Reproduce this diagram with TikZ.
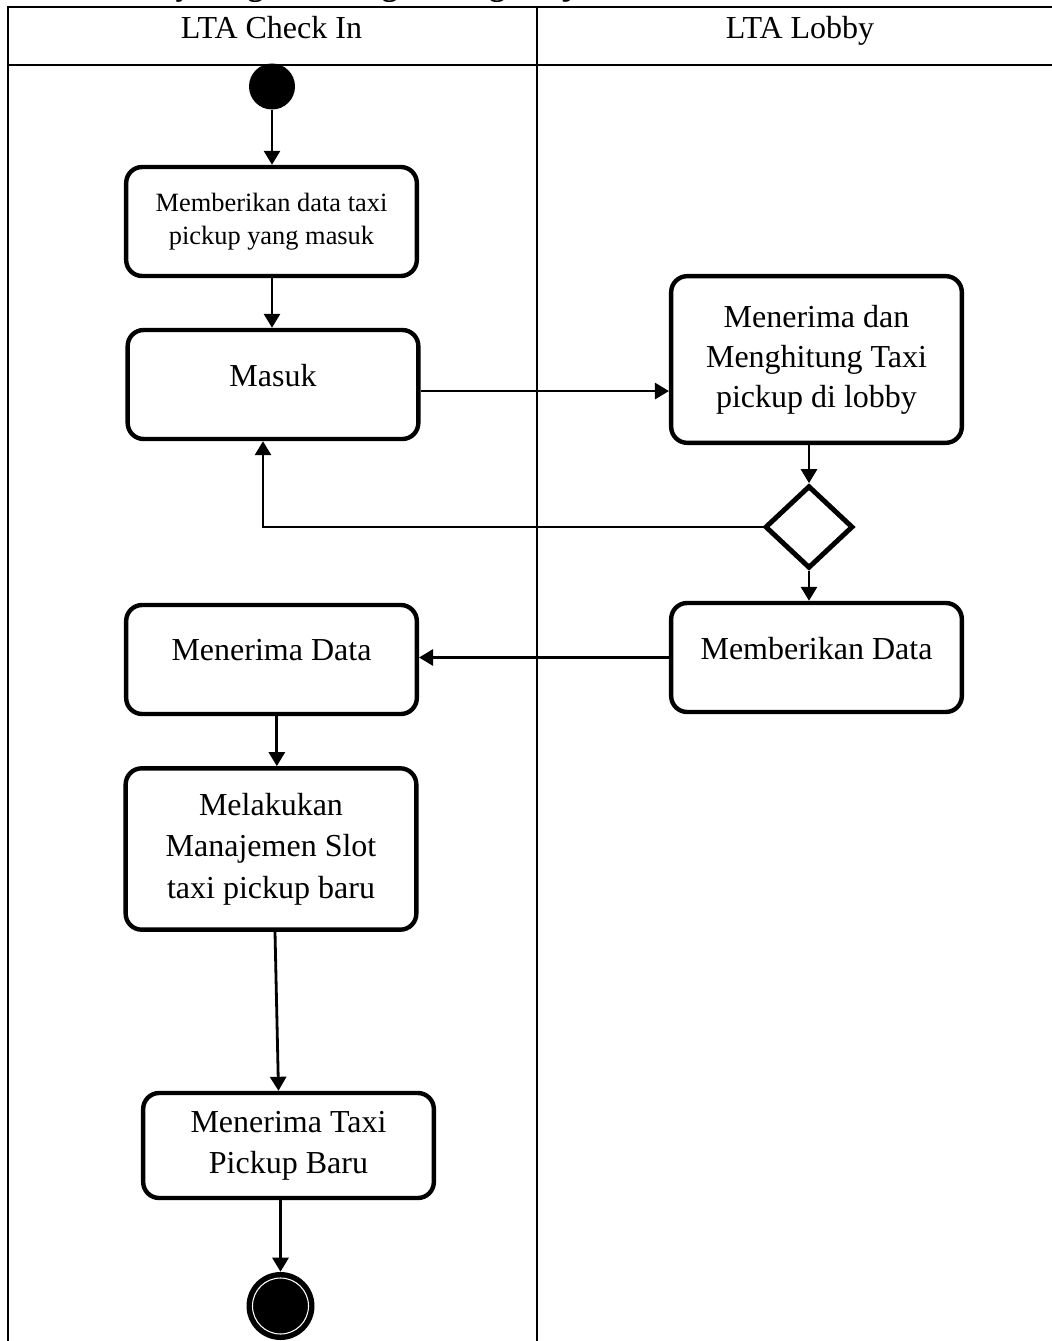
\documentclass[tikz,border=0pt]{standalone}
\usepackage{fontspec}
\setmainfont{Liberation Serif}
\usetikzlibrary{arrows.meta,shapes.geometric}

\tikzset{
  lane/.style={line width=1.9pt},
  divider/.style={line width=1.4pt},
  actbox/.style={draw, line width=3.3pt, rounded corners=12pt, align=center,
    minimum width=218pt, minimum height=81.75pt, inner sep=2pt,
    font=\fontsize{24}{30}\selectfont},
  smallbox/.style={actbox, font=\fontsize{19.8}{25}\selectfont},
  caption/.style={label={[font=\fontsize{24}{30}\selectfont, yshift=7pt]center:#1}},
  flow/.style={line width=2.1pt, -{Triangle[length=10.5pt,width=12pt]}},
  decision/.style={draw, diamond, line width=3.7pt, inner sep=0pt,
    minimum width=66pt, minimum height=62pt},
  startnode/.style={circle, fill=black, inner sep=0pt, minimum size=34.5pt},
  endnode/.style={circle, fill=black, inner sep=0pt, minimum size=51pt},
}

\begin{document}
\begin{tikzpicture}[x=0.75pt, y=-0.75pt]
  \useasboundingbox (0,0) rectangle (1052,1341);
  \clip (0,0) rectangle (1052,1341);

  % caption above the table, mostly outside the page
  \node[anchor=base west, inner sep=0pt, font=\fontsize{24}{30}\selectfont\bfseries]
    (title) at (83,-4.5) {Activity Diagram Yang Sedang Berjalan};

  % swimlane table
  \draw[lane] (8,1345) -- (8,7) -- (1060,7);
  \draw[lane] (8,65) -- (1060,65);
  \draw[divider] (537,7) -- (537,1345);
  \node[anchor=base, font=\fontsize{24}{30}\selectfont] (laneA) at (271.5,39) {LTA Check In};
  \node[anchor=base, font=\fontsize{24}{30}\selectfont] (laneB) at (800,39) {LTA Lobby};

  % activities
  \node[startnode] (start) at (272,86.5) {};
  \node[smallbox] (data) at (271.5,221.5) {Memberikan data taxi\\pickup yang masuk};
  \node[actbox, caption=Masuk] (masuk) at (273,384.5) {};
  \node[actbox, minimum height=125pt] (hitung) at (816.5,359.5)
    {Menerima dan\\Menghitung Taxi\\pickup di lobby};
  \node[decision] (dec) at (809,527) {};
  \node[actbox, caption={Memberikan Data}] (beri) at (816.5,657.5) {};
  \node[actbox, caption={Menerima Data}] (terima) at (271.5,659.5) {};
  \node[actbox, minimum height=121pt, font=\fontsize{24}{31}\selectfont] (slot) at (271,849)
    {Melakukan\\Manajemen Slot\\taxi pickup baru};
  \node[actbox, minimum height=78.75pt, font=\fontsize{24}{30.7}\selectfont] (baru) at (288.5,1145.5)
    {Menerima Taxi\\Pickup Baru};
  \node[endnode] (end) at (280.5,1306) {};
  \draw[white, line width=0.8pt] (end.center) circle[radius=21pt];

  % control flow
  \draw[flow] (start) -- (start |- data.north);
  \draw[flow] (data.south -| start) -- (masuk.north -| start);
  \draw[flow] ([yshift=-4.9pt]masuk.east) -- ([yshift=-4.9pt]masuk.east -| hitung.west);
  \draw[flow] (hitung.south -| dec.north) -- (dec.north);
  \draw[flow] (dec.west) -| ([xshift=-7.5pt]masuk.south);
  \draw[flow] (dec.south) -- (dec.south |- beri.north);
  \draw[flow] (beri.west) -- (beri.west -| terima.east);
  \draw[flow] ([xshift=4pt]terima.south) -- ([xshift=4pt]terima.south |- slot.north);
  \draw[flow] ([xshift=3pt]slot.south) -- ([xshift=-7.5pt]baru.north);
  \draw[flow] (baru.south -| end) -- (end.north);
\end{tikzpicture}
\end{document}
